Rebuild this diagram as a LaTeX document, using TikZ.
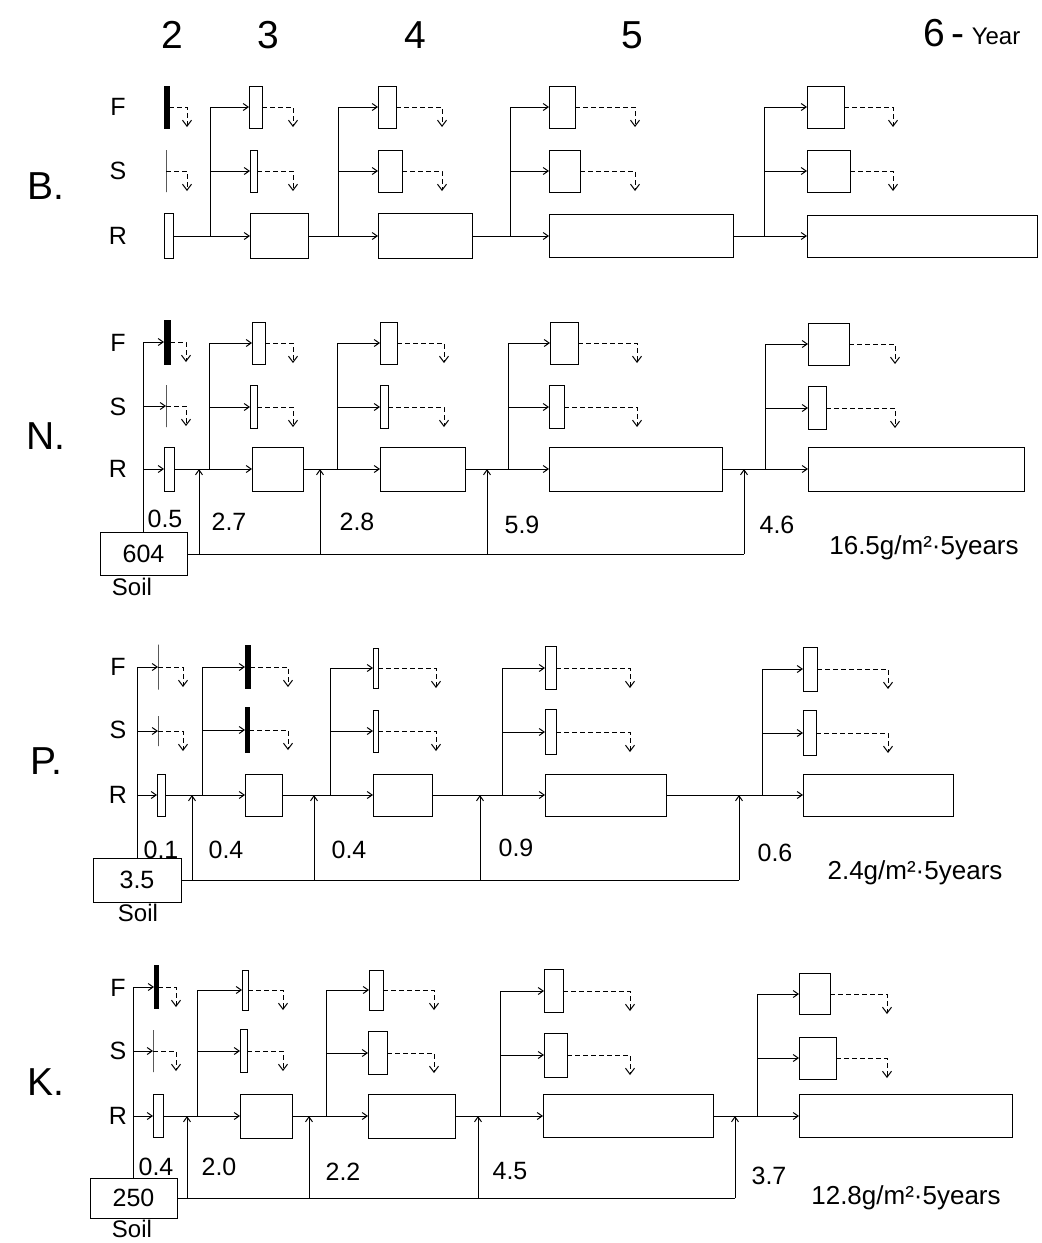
\documentclass[tikz,border=0pt]{standalone}
\usepackage{fontspec}
\setmainfont{Liberation Sans}
\usetikzlibrary{arrows.meta}
\newcommand\bx[6]{\node[#1, minimum width={#4-#3}, minimum height={#6}] (#2) at ({(#3+#4)/2},#5) {};}
\newcommand\junc[4]{%
  \coordinate (#1J#3) at (#4,0 |- #1R#2.east);
  \coordinate (#1T#3) at (#1J#3 |- #1F#3.west);
  \draw[con] (#1R#2.east) -- (#1R#3.west);
  \draw[ln] (#1J#3) -- (#1T#3);
  \draw[con] (#1T#3) -- (#1F#3.west);
  \draw[con] (#1J#3 |- #1S#3.west) -- (#1S#3.west);}
\newcommand\outfl[3]{%
  \coordinate (#1OF#2) at ([yshift=-20pt]#1F#2.east -| #3,0);
  \coordinate (#1OS#2) at ([yshift=-20pt]#1S#2.east -| #3,0);
  \draw[outf] (#1F#2.east) -| (#1OF#2);
  \draw[outf] (#1S#2.east) -| (#1OS#2);}
\newcommand\rowlabels[4]{%
  \node[rowl] (#1lF) at (118,#2) {F};
  \node[rowl] (#1lS) at (118,#3) {S};
  \node[rowl] (#1lR) at (118,#4) {R};}
\begin{document}
\begin{tikzpicture}[x=1pt,y=-1pt,
  bxs/.style={draw, line width=1pt, inner sep=0pt, outer sep=0pt, rectangle},
  barf/.style={bxs, fill=black},
  stick/.style={bxs},
  con/.style={line width=1pt, -{Straight Barb[length=5pt,width=7pt]}},
  ln/.style={line width=1pt},
  outf/.style={line width=1pt, dash pattern=on 5pt off 3pt, -{Straight Barb[length=6pt,width=9pt]}},
  big/.style={font=\fontsize{39}{39}\selectfont},
  sec/.style={font=\fontsize{39}{39}\selectfont},
  rowl/.style={font=\fontsize{25}{25}\selectfont},
  num/.style={font=\fontsize{25}{25}\selectfont},
  tot/.style={font=\fontsize{26}{26}\selectfont},
  soilbox/.style={draw, line width=1pt, inner sep=0pt, font=\fontsize{25}{25}\selectfont},
  soill/.style={font=\fontsize{24}{24}\selectfont},
  ]
\useasboundingbox (0,0) rectangle (1042,1243);

% header
\node[big] (h2) at (172,35) {2};
\node[big] (h3) at (268,35) {3};
\node[big] (h4) at (415,35) {4};
\node[big] (h5) at (632,35) {5};
\node[big] (h6) at (944,33) {6\,-};
\node[font=\fontsize{24}{24}\selectfont] (hy) at (996,36) {Year};

% section labels
\node[sec] (secB) at (46,186) {B.};
\node[sec] (secN) at (46,436) {N.};
\node[sec] (secP) at (46,761) {P.};
\node[sec] (secK) at (46,1082) {K.};

% ================= B =================
\rowlabels{B}{107}{171}{236}
\bx{barf}{BF2}{164}{169}{107}{42}
\bx{stick}{BS2}{166}{166}{171}{42}
\bx{bxs}{BR2}{164}{173}{236}{45}
\bx{bxs}{BF3}{249}{262}{107}{42}
\bx{bxs}{BS3}{250}{257}{171}{42}
\bx{bxs}{BR3}{250}{308}{236}{45}
\bx{bxs}{BF4}{378}{396}{107}{42}
\bx{bxs}{BS4}{378}{402}{171}{42}
\bx{bxs}{BR4}{378}{472}{236}{45}
\bx{bxs}{BF5}{549}{575}{107}{42}
\bx{bxs}{BS5}{549}{580}{171}{42}
\bx{bxs}{BR5}{549}{733}{236}{43}
\bx{bxs}{BF6}{807}{844}{107}{42}
\bx{bxs}{BS6}{807}{850}{171}{42}
\bx{bxs}{BR6}{807}{1037}{236}{42}
\junc{B}{2}{3}{210}
\junc{B}{3}{4}{338}
\junc{B}{4}{5}{510}
\junc{B}{5}{6}{764}
\outfl{B}{2}{187}
\outfl{B}{3}{293}
\outfl{B}{4}{442}
\outfl{B}{5}{635}
\outfl{B}{6}{893}

% ================= N =================
\rowlabels{N}{343}{407}{469}
\bx{barf}{NF2}{164}{170}{342}{44}
\bx{stick}{NS2}{166}{166}{406}{42}
\bx{bxs}{NR2}{164}{174}{469}{44}
\bx{bxs}{NF3}{252}{265}{343}{42}
\bx{bxs}{NS3}{250}{257}{407}{43}
\bx{bxs}{NR3}{252}{303}{469}{44}
\bx{bxs}{NF4}{380}{397}{343}{42}
\bx{bxs}{NS4}{380}{388}{407}{43}
\bx{bxs}{NR4}{380}{465}{469}{44}
\bx{bxs}{NF5}{550}{578}{343}{42}
\bx{bxs}{NS5}{549}{564}{407}{43}
\bx{bxs}{NR5}{549}{722}{469}{44}
\bx{bxs}{NF6}{808}{849}{344}{42}
\bx{bxs}{NS6}{808}{826}{408}{43}
\bx{bxs}{NR6}{808}{1024}{469}{44}
\junc{N}{2}{3}{209}
\junc{N}{3}{4}{337}
\junc{N}{4}{5}{508}
\junc{N}{5}{6}{765}
\outfl{N}{2}{186}
\outfl{N}{3}{293}
\outfl{N}{4}{444}
\outfl{N}{5}{637}
\outfl{N}{6}{895}
\node[soilbox, minimum width=87pt, minimum height=43pt] (Nsoil) at (143.5,554) {604};
\node[soill, anchor=north] (NsoilL) at (132,575) {Soil};
\coordinate (NV) at (Nsoil.north |- NF2.west);
\draw[ln] (Nsoil.north) -- (NV);
\draw[con] (NV) -- (NF2.west);
\draw[con] (NV |- NS2.west) -- (NS2.west);
\draw[con] (NV |- NR2.west) -- (NR2.west);
\coordinate (NA3) at (199,554);
\coordinate (NA4) at (320,554);
\coordinate (NA5) at (487,554);
\coordinate (NA6) at (744,554);
\draw[ln] (Nsoil.east) -- (NA6);
\draw[con] (NA3) -- (NA3 |- NR2.east);
\draw[con] (NA4) -- (NA4 |- NR2.east);
\draw[con] (NA5) -- (NA5 |- NR2.east);
\draw[con] (NA6) -- (NA6 |- NR2.east);
\node[num] (Nn2) at (165,519) {0.5};
\node[num] (Nn3) at (229,522) {2.7};
\node[num] (Nn4) at (357,522) {2.8};
\node[num] (Nn5) at (522,525) {5.9};
\node[num] (Nn6) at (777,525) {4.6};
\node[tot] (Ntot) at (924,548) {16.5g/m²·5years};

% ================= P =================
\rowlabels{P}{667}{730}{795}
\bx{stick}{PF2}{158}{158}{667}{45}
\bx{stick}{PS2}{158}{158}{731}{30}
\bx{bxs}{PR2}{157}{165}{795}{42}
\bx{barf}{PF3}{245}{250}{667}{43}
\bx{barf}{PS3}{245}{249}{730}{45}
\bx{bxs}{PR3}{245}{282}{795}{42}
\bx{bxs}{PF4}{373}{378}{668}{40}
\bx{bxs}{PS4}{373}{378}{731}{42}
\bx{bxs}{PR4}{373}{432}{795}{42}
\bx{bxs}{PF5}{545}{556}{668}{43}
\bx{bxs}{PS5}{545}{556}{732}{45}
\bx{bxs}{PR5}{545}{666}{795}{42}
\bx{bxs}{PF6}{803}{817}{669}{44}
\bx{bxs}{PS6}{803}{816}{733}{45}
\bx{bxs}{PR6}{803}{953}{795}{42}
\junc{P}{2}{3}{202}
\junc{P}{3}{4}{330}
\junc{P}{4}{5}{502}
\junc{P}{5}{6}{762}
\outfl{P}{2}{183}
\outfl{P}{3}{288}
\outfl{P}{4}{436}
\outfl{P}{5}{630}
\outfl{P}{6}{888}
\node[soilbox, minimum width=88pt, minimum height=44pt] (Psoil) at (137,880) {3.5};
\node[soill, anchor=north] (PsoilL) at (138,901) {Soil};
\coordinate (PV) at (Psoil.north |- PF2.west);
\draw[ln] (Psoil.north) -- (PV);
\draw[con] (PV) -- (PF2.west);
\draw[con] (PV |- PS2.west) -- (PS2.west);
\draw[con] (PV |- PR2.west) -- (PR2.west);
\coordinate (PA3) at (192,880);
\coordinate (PA4) at (314,880);
\coordinate (PA5) at (480,880);
\coordinate (PA6) at (739,880);
\draw[ln] (Psoil.east) -- (PA6);
\draw[con] (PA3) -- (PA3 |- PR2.east);
\draw[con] (PA4) -- (PA4 |- PR2.east);
\draw[con] (PA5) -- (PA5 |- PR2.east);
\draw[con] (PA6) -- (PA6 |- PR2.east);
\node[num] (Pn2) at (161,850) {0.1};
\node[num] (Pn3) at (226,850) {0.4};
\node[num] (Pn4) at (349,850) {0.4};
\node[num] (Pn5) at (516,848) {0.9};
\node[num] (Pn6) at (775,853) {0.6};
\node[tot] (Ptot) at (915,873) {2.4g/m²·5years};

% ================= K =================
\rowlabels{K}{988}{1051}{1116}
\bx{barf}{KF2}{154}{158}{987}{43}
\bx{stick}{KS2}{153}{153}{1051}{42}
\bx{bxs}{KR2}{153}{163}{1116}{43}
\bx{bxs}{KF3}{242}{248}{990}{40}
\bx{bxs}{KS3}{240}{247}{1051}{43}
\bx{bxs}{KR3}{240}{292}{1116}{44}
\bx{bxs}{KF4}{369}{383}{990}{40}
\bx{bxs}{KS4}{368}{387}{1053}{43}
\bx{bxs}{KR4}{368}{455}{1116}{44}
\bx{bxs}{KF5}{544}{563}{991}{43}
\bx{bxs}{KS5}{544}{567}{1055}{44}
\bx{bxs}{KR5}{543}{713}{1116}{43}
\bx{bxs}{KF6}{799}{830}{994}{41}
\bx{bxs}{KS6}{799}{836}{1058}{42}
\bx{bxs}{KR6}{799}{1012}{1116}{43}
\junc{K}{2}{3}{197}
\junc{K}{3}{4}{326}
\junc{K}{4}{5}{500}
\junc{K}{5}{6}{757}
\outfl{K}{2}{176}
\outfl{K}{3}{283}
\outfl{K}{4}{434}
\outfl{K}{5}{630}
\outfl{K}{6}{887}
\node[soilbox, minimum width=87pt, minimum height=40pt] (Ksoil) at (133.5,1198) {250};
\node[soill, anchor=north] (KsoilL) at (132,1217) {Soil};
\coordinate (KV) at (Ksoil.north |- KF2.west);
\draw[ln] (Ksoil.north) -- (KV);
\draw[con] (KV) -- (KF2.west);
\draw[con] (KV |- KS2.west) -- (KS2.west);
\draw[con] (KV |- KR2.west) -- (KR2.west);
\coordinate (KA3) at (187,1198);
\coordinate (KA4) at (309,1198);
\coordinate (KA5) at (478,1198);
\coordinate (KA6) at (735,1198);
\draw[ln] (Ksoil.east) -- (KA6);
\draw[con] (KA3) -- (KA3 |- KR2.east);
\draw[con] (KA4) -- (KA4 |- KR2.east);
\draw[con] (KA5) -- (KA5 |- KR2.east);
\draw[con] (KA6) -- (KA6 |- KR2.east);
\node[num] (Kn2) at (156,1167) {0.4};
\node[num] (Kn3) at (219,1167) {2.0};
\node[num] (Kn4) at (343,1172) {2.2};
\node[num] (Kn5) at (510,1171) {4.5};
\node[num] (Kn6) at (769,1176) {3.7};
\node[tot] (Ktot) at (906,1198) {12.8g/m²·5years};
\end{tikzpicture}
\end{document}
